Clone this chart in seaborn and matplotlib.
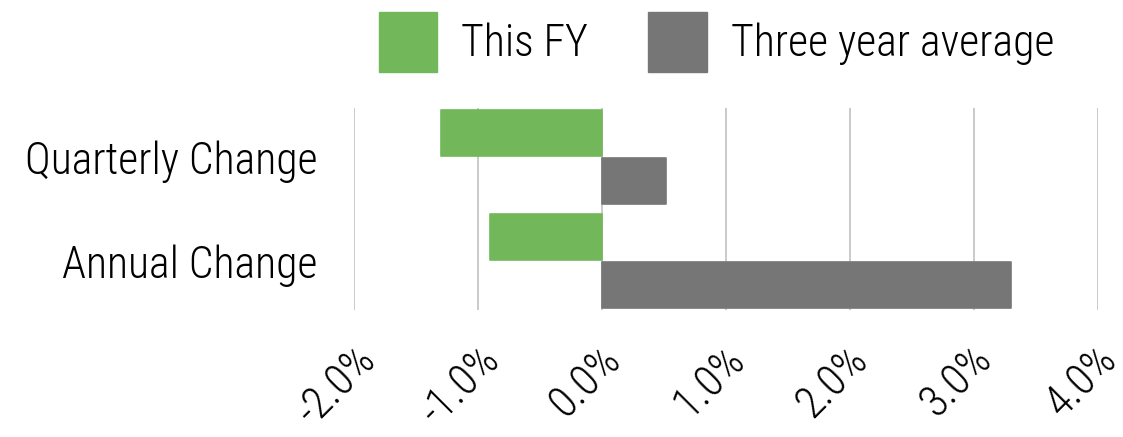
import matplotlib.pyplot as plt
import matplotlib.transforms as mtransforms
import pandas as pd
import seaborn as sns
from matplotlib import font_manager
from matplotlib.ticker import PercentFormatter

# Data
categories = ["Quarterly Change", "Annual Change"]
this_fy = [-1.3, -0.9]
three_year_avg = [0.52, 3.3]
series_names = ["This FY", "Three year average"]
x_ticks = [-2, -1, 0, 1, 2, 3, 4]

GREEN = "#72b85a"
GRAY = "#767676"
FS = 31.5


def pick_condensed():
    names = {f.name for f in font_manager.fontManager.ttflist}
    for cand in ["Roboto Condensed", "Liberation Sans Narrow", "Open Sans Condensed",
                 "Noto Sans Condensed", "Arial Narrow", "DejaVu Sans Condensed"]:
        if cand in names:
            return cand, "normal"
    for f in font_manager.fontManager.ttflist:
        if f.stretch in ("condensed", "semi-condensed", "extra-condensed") and f.style == "normal":
            return f.name, f.stretch
    return "Roboto", "normal"


FONT, STRETCH = pick_condensed()

df = pd.DataFrame({
    "category": categories * 2,
    "series": [series_names[0]] * 2 + [series_names[1]] * 2,
    "value": this_fy + three_year_avg,
})

sns.set_theme(style="white")
plt.rcParams["font.family"] = [FONT, "DejaVu Sans"]
plt.rcParams["font.stretch"] = STRETCH
plt.rcParams["font.weight"] = "light"
plt.rcParams["text.color"] = "black"
plt.rcParams["axes.unicode_minus"] = False

fig = plt.figure(figsize=(11.23, 4.37), dpi=100)
ax = fig.add_axes([0.315, 0.291, 0.663, 0.462])

sns.barplot(
    data=df, y="category", x="value", hue="series", orient="h",
    palette=[GREEN, GRAY], saturation=1, width=0.92, gap=0.05, ax=ax, legend=False,
)

# slightly rounded corners like the original
for p in ax.patches:
    p.set_edgecolor(p.get_facecolor())
    p.set_linewidth(1.2)
    p.set_joinstyle("round")

ax.set_xlim(-2, 4)
ax.set_ylim(1.47, -0.47)
ax.set_xticks(x_ticks)
ax.xaxis.set_major_formatter(PercentFormatter(decimals=1))
ax.grid(axis="x", color="#c6c6c6", linewidth=1.3)
ax.set_axisbelow(True)
for s in ax.spines.values():
    s.set_visible(False)
ax.set_xlabel("")
ax.set_ylabel("")
ax.tick_params(axis="y", length=0, pad=26, labelsize=FS, labelcolor="black")
ax.tick_params(axis="x", length=0, pad=20, labelsize=FS, labelcolor="black")

offset = mtransforms.ScaledTranslation(-0.17, 0, fig.dpi_scale_trans)
for lbl in ax.get_xticklabels():
    lbl.set_rotation(45)
    lbl.set_ha("center")
    lbl.set_transform(lbl.get_transform() + offset)

handles = [plt.Rectangle((0, 0), 1, 1, color=c) for c in (GREEN, GRAY)]
fig.legend(
    handles, series_names, loc="upper center", bbox_to_anchor=(0.638, 1.063),
    ncol=2, frameon=False, fontsize=FS, handlelength=1.33, handleheight=1.75,
    handletextpad=0.55, columnspacing=1.38,
)

fig.savefig("out.png", dpi=100)
